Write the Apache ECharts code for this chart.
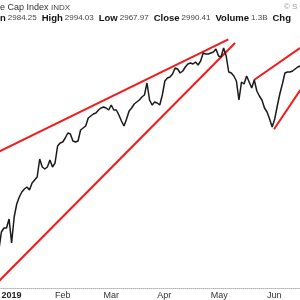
<!DOCTYPE html>
<html><head><meta charset="utf-8">
<script src="https://cdn.jsdelivr.net/npm/echarts@6/dist/echarts.min.js"></script>
<style>html,body{margin:0;padding:0;background:#fff}#c{width:300px;height:300px}</style>
</head><body><div id="c"></div>
<script>
const dates = [
'2018-12-31',
'2019-01-02','2019-01-03','2019-01-04','2019-01-07','2019-01-08','2019-01-09','2019-01-10','2019-01-11','2019-01-14','2019-01-15','2019-01-16','2019-01-17','2019-01-18','2019-01-22','2019-01-23','2019-01-24','2019-01-25','2019-01-28','2019-01-29','2019-01-30','2019-01-31',
'2019-02-01','2019-02-04','2019-02-05','2019-02-06','2019-02-07','2019-02-08','2019-02-11','2019-02-12','2019-02-13','2019-02-14','2019-02-15','2019-02-19','2019-02-20','2019-02-21','2019-02-22','2019-02-25','2019-02-26','2019-02-27','2019-02-28',
'2019-03-01','2019-03-04','2019-03-05','2019-03-06','2019-03-07','2019-03-08','2019-03-11','2019-03-12','2019-03-13','2019-03-14','2019-03-15','2019-03-18','2019-03-19','2019-03-20','2019-03-21','2019-03-22','2019-03-25','2019-03-26','2019-03-27','2019-03-28','2019-03-29',
'2019-04-01','2019-04-02','2019-04-03','2019-04-04','2019-04-05','2019-04-08','2019-04-09','2019-04-10','2019-04-11','2019-04-12','2019-04-15','2019-04-16','2019-04-17','2019-04-18','2019-04-22','2019-04-23','2019-04-24','2019-04-25','2019-04-26','2019-04-29','2019-04-30',
'2019-05-01','2019-05-02','2019-05-03','2019-05-06','2019-05-07','2019-05-08','2019-05-09','2019-05-10','2019-05-13','2019-05-14','2019-05-15','2019-05-16','2019-05-17','2019-05-20','2019-05-21','2019-05-22','2019-05-23','2019-05-24','2019-05-28','2019-05-29','2019-05-30','2019-05-31',
'2019-06-03','2019-06-04','2019-06-05','2019-06-06','2019-06-07','2019-06-10','2019-06-11','2019-06-12','2019-06-13','2019-06-14','2019-06-17','2019-06-18','2019-06-19','2019-06-20'
];
const closes = [
2445,2490,2500,2500,2522.5,2462.5,2527.5,2560,2577.5,2590,
2597.5,2602.5,2595,2612.5,2620,2627.5,2672.5,2652.5,2647.5,2652.5,
2670,2652.5,2662.5,2705,2712.5,2715,2725,2737.5,2735,2717.5,
2715,2717.5,2745,2750,2755,2775,2780,2785,2787.5,2795,
2800,2802.5,2800,2795,2807.5,2795,2795,2782.5,2767.5,2755,
2772.5,2792.5,2800,2810,2815,2820,2827.5,2832.5,2862.5,2820,
2807.5,2815,2812.5,2807.5,2832.5,2867.5,2875,2877.5,2885,2900,
2897.5,2887.5,2892.5,2902.5,2910,2912.5,2910,2915,2907.5,2917.5,
2937.5,2935,2935,2937.5,2940,2947.5,2930,2927.5,2950,2930,
2890,2887.5,2880,2867.5,2820,2865,2860,2880,2865,2850,
2870,2842.5,2830,2820,2800,2790,2772.5,2752.5,2772.5,2805,
2835,2860,2887.5,2890,2890,2892.5,2897.5,2902.5,2905
];
// trend lines: [trading-day index, value]
const trendUpperLeft = [[0, 2691], [89.84, 2971.75]];
const trendLowerLeft = [[0, 2367], [92.46, 2962.5]];
const trendUpperRight = [[99.9, 2870], [118, 2950.25]];
const trendLowerRight = [[107.73, 2746.75], [118, 2845]];
const monthNames = ['Jan','Feb','Mar','Apr','May','Jun','Jul','Aug','Sep','Oct','Nov','Dec'];
const quoteLabels = ['n', 'High', 'Low', 'Close', 'Volume', 'Chg'];
const quoteValues = ['2984.25', '2994.03', '2967.97', '2990.41', '1.3B', ''];

const FONT = '"Liberation Sans", Arial, sans-serif';
const chart = echarts.init(document.getElementById('c'), null, {renderer: 'canvas'});
function isMonthStart(i) {
  if (i === 0) return false;
  return dates[i].slice(5, 7) !== dates[i - 1].slice(5, 7);
}
const red = '#f41a1a';
const trendSeries = (d) => ({
  type: 'line', xAxisIndex: 1, data: d, symbol: 'none', silent: true,
  lineStyle: {color: red, width: 2}, animation: false
});
const quoteText = quoteLabels.map((l, i) =>
  '{b|' + l + '}' + (quoteValues[i] ? '{v|' + quoteValues[i] + '}' : '')).join('');
chart.setOption({
  animation: false,
  grid: {left: -1.15, top: 28, width: 301.4, height: 260, outerBoundsMode: 'none'},
  xAxis: [{
    type: 'category', data: dates, boundaryGap: false,
    axisLine: {show: true, lineStyle: {color: '#b5b5b5', type: [1, 1], width: 1}},
    axisTick: {show: false},
    splitLine: {show: false},
    axisLabel: {
      interval: (i) => isMonthStart(i),
      align: 'left', margin: 3, fontSize: 9, fontFamily: FONT, color: '#333',
      formatter: (v) => {
        const m = +v.slice(5, 7);
        return m === 1 ? '{y|' + v.slice(0, 4) + '}' : monthNames[m - 1];
      },
      rich: {y: {fontWeight: 'bold', fontSize: 9, fontFamily: FONT, color: '#222'}}
    }
  }, {
    type: 'value', min: 0, max: 118, show: false
  }],
  yAxis: {type: 'value', min: 2350, max: 3000, show: false, splitLine: {show: false}},
  series: [
    trendSeries(trendUpperLeft),
    trendSeries(trendLowerLeft),
    trendSeries(trendUpperRight),
    trendSeries(trendLowerRight),
    {
      type: 'line', data: closes, symbol: 'none', silent: true,
      lineStyle: {color: '#1a1a1a', width: 1.5}, z: 3
    }
  ],
  graphic: [
    {type: 'text', left: 0, top: 3, style: {
      text: 'e Cap Index {s|INDX}', font: '9px ' + FONT, fill: '#333',
      rich: {s: {fontSize: 8, fontFamily: FONT, fill: '#444'}}
    }},
    {type: 'text', left: 284, top: 3, style: {text: '© S', font: '8px ' + FONT, fill: '#999'}},
    {type: 'text', left: 0, top: 13, style: {
      text: quoteText,
      font: '8px ' + FONT, fill: '#444',
      rich: {
        b: {fontSize: 9.5, fontWeight: 'bold', fontFamily: FONT, fill: '#111', padding: [0, 2, 0, 0]},
        v: {fontSize: 8, fontFamily: FONT, fill: '#444', padding: [0, 5, 0, 0]}
      }
    }}
  ]
});
</script></body></html>
